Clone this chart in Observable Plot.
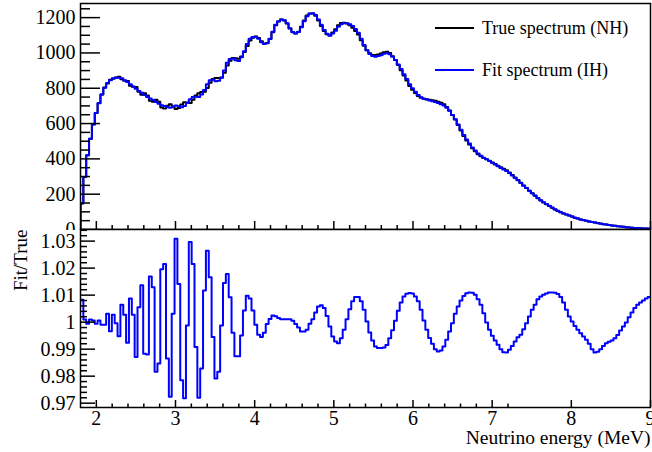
<!DOCTYPE html>
<html><head><meta charset="utf-8">
<script src="https://cdn.jsdelivr.net/npm/d3@7"></script>
<script src="https://cdn.jsdelivr.net/npm/@observablehq/plot@0.6"></script>
<style>
body{margin:0;background:#fff;}
#wrap{position:relative;width:652px;height:452px;font-family:"Liberation Serif","DejaVu Serif","Times New Roman",serif;overflow:hidden;}
#top{position:absolute;left:0;top:0;}
#bot{position:absolute;left:0;top:228px;}
.lg{position:absolute;left:435px;height:20px;display:flex;align-items:center;font-size:18px;white-space:nowrap;}
.lg span.sw{display:inline-block;width:39px;height:2px;margin-right:8px;}
svg text{font-family:"Liberation Serif","DejaVu Serif","Times New Roman",serif !important;}
</style></head>
<body><div id="wrap"><div id="top"></div><div id="bot"></div><div id="legend"></div></div>
<script>
// histogram binning
const xMin = 1.8, xMax = 9.0, nBins = 200;

// Fit spectrum (IH), events per bin
const fitSpectrum = [
  149, 297, 420, 514, 595, 660, 716, 764, 803, 830,
  845, 856, 860, 860, 856, 845, 835, 822, 810, 797,
  785, 774, 762, 750, 742, 733, 722, 712, 704, 700,
  692, 690, 697, 703, 698, 693, 700, 718, 738, 750,
  752, 750, 765, 790, 822, 845, 848, 840, 842, 860,
  900, 945, 965, 968, 958, 955, 975, 1010, 1050, 1080,
  1090, 1092, 1080, 1060, 1050, 1055, 1080, 1120, 1160, 1180,
  1190, 1185, 1168, 1140, 1118, 1110, 1118, 1145, 1180, 1208,
  1222, 1225, 1215, 1190, 1160, 1130, 1108, 1098, 1110, 1126,
  1148, 1162, 1168, 1168, 1162, 1152, 1135, 1115, 1080, 1045,
  1015, 994, 982, 979, 982, 987, 995, 998, 993, 978,
  960, 935, 909, 880, 853, 822, 800, 780, 762, 749,
  741, 736, 731, 726, 722, 716, 710, 703, 690, 672,
  648, 625, 595, 565, 535, 510, 487, 465, 447, 430,
  418, 407, 398, 388, 378, 368, 358, 349, 340, 332,
  320, 306, 292, 279, 263, 248, 235, 220, 206, 192,
  178, 166, 154, 144, 134, 124, 115, 106, 98, 91,
  85, 79, 73, 67, 62, 57, 53, 49, 45, 42,
  39, 36, 33, 30, 28, 25, 23, 21, 19, 17,
  15, 13, 12, 10, 9, 8, 7, 6, 6, 5
];

// Fit/True ratio per bin
const ratio = [
  1.0083, 1.0010, 0.9994, 1.0010, 1.0006, 0.9994, 1.0006, 0.9990, 0.9990, 1.0031,
  0.9966, 1.0027, 0.9996, 0.9948, 1.0064, 1.0027, 0.9924, 1.0088, 1.0027, 0.9871,
  1.0055, 1.0137, 0.9883, 0.9880, 1.0169, 1.0129, 0.9816, 0.9847, 1.0196, 1.0215,
  0.9865, 0.9724, 1.0031, 1.0309, 1.0141, 0.9785, 0.9718, 0.9988, 1.0297, 1.0215,
  0.9908, 0.9720, 0.9828, 1.0117, 1.0264, 1.0166, 0.9945, 0.9791, 0.9816, 0.9988,
  1.0145, 1.0178, 1.0092, 0.9961, 0.9874, 0.9874, 0.9951, 1.0043, 1.0098, 1.0088,
  1.0043, 0.9990, 0.9953, 0.9945, 0.9961, 0.9993, 1.0012, 1.0025, 1.0022, 1.0015,
  1.0011, 1.0011, 1.0011, 1.0011, 1.0005, 0.9993, 0.9980, 0.9965, 0.9965, 0.9972,
  0.9994, 1.0011, 1.0036, 1.0058, 1.0063, 1.0052, 1.0023, 0.9984, 0.9947, 0.9928,
  0.9922, 0.9940, 0.9972, 1.0011, 1.0048, 1.0077, 1.0093, 1.0093, 1.0077, 1.0046,
  1.0002, 0.9962, 0.9932, 0.9910, 0.9904, 0.9904, 0.9906, 0.9915, 0.9940, 0.9970,
  1.0005, 1.0042, 1.0073, 1.0095, 1.0105, 1.0108, 1.0106, 1.0095, 1.0077, 1.0046,
  1.0006, 0.9972, 0.9941, 0.9920, 0.9900, 0.9891, 0.9895, 0.9910, 0.9935, 0.9965,
  0.9996, 1.0031, 1.0058, 1.0080, 1.0097, 1.0107, 1.0110, 1.0109, 1.0101, 1.0085,
  1.0064, 1.0033, 0.9999, 0.9972, 0.9950, 0.9932, 0.9916, 0.9900, 0.9889, 0.9888,
  0.9898, 0.9912, 0.9928, 0.9944, 0.9953, 0.9974, 0.9996, 1.0021, 1.0046, 1.0064,
  1.0085, 1.0095, 1.0101, 1.0106, 1.0110, 1.0110, 1.0109, 1.0104, 1.0093, 1.0073,
  1.0046, 1.0021, 1.0002, 0.9986, 0.9972, 0.9959, 0.9947, 0.9935, 0.9920, 0.9900,
  0.9888, 0.9890, 0.9900, 0.9912, 0.9922, 0.9927, 0.9932, 0.9940, 0.9952, 0.9969,
  0.9984, 0.9999, 1.0018, 1.0036, 1.0052, 1.0064, 1.0073, 1.0080, 1.0088, 1.0093
];

// True spectrum (NH) = Fit / (Fit/True)
const trueSpectrum = fitSpectrum.map((v, i) => v / ratio[i]);

const xTicks = [2, 3, 4, 5, 6, 7, 8, 9];
const yTopTicks = [0, 200, 400, 600, 800, 1000, 1200];
const yBotTicks = [0.97, 0.98, 0.99, 1, 1.01, 1.02, 1.03];
const yBotLabels = ["0.97", "0.98", "0.99", "1", "1.01", "1.02", "1.03"];
const seriesNames = ["True spectrum (NH)", "Fit spectrum (IH)"];
const seriesColors = ["#000000", "#0000ff"];
const xTitle = "Neutrino energy (MeV)";
const yBotTitle = "Fit/True";

const edges = d3.range(nBins + 1).map(i => xMin + i * (xMax - xMin) / nBins);
function stepPoints(vals, base) {
  const pts = vals.map((v, i) => ({x: edges[i], y: v}));
  pts.push({x: edges[nBins], y: vals[nBins - 1]});
  if (base !== undefined) {
    pts.unshift({x: edges[0], y: base});
    pts.push({x: edges[nBins], y: base});
  }
  return pts;
}
const minorX = d3.range(9, 37).map(k => k / 5).filter(v => v > xMin && v < xMax && !xTicks.includes(v));
const minorTopY = d3.range(0, 26).map(k => k * 50).filter(v => !yTopTicks.includes(v));
const minorBotY = d3.range(485, 518).map(k => k / 500).filter(v => !yBotTicks.some(t => Math.abs(t - v) < 1e-9));
const blank = () => "";
const font = "'Liberation Serif', 'DejaVu Serif', serif";

const topPlot = Plot.plot({
  width: 652, height: 230,
  marginLeft: 80, marginRight: 2, marginTop: 3, marginBottom: 1,
  style: {fontFamily: font, fontSize: "20px", background: "white", color: "black"},
  x: {domain: [xMin, xMax], axis: null},
  y: {domain: [0, 1280], axis: null},
  marks: [
    Plot.line(stepPoints(trueSpectrum, 0), {x: "x", y: "y", curve: "step-after", stroke: seriesColors[0], strokeWidth: 2, clip: true}),
    Plot.line(stepPoints(fitSpectrum, 0), {x: "x", y: "y", curve: "step-after", stroke: seriesColors[1], strokeWidth: 2, clip: true}),
    Plot.axisY(yTopTicks, {anchor: "left", tickSize: -20, tickFormat: blank, label: null, strokeWidth: 1.5}),
    Plot.axisY(minorTopY, {anchor: "left", tickSize: -10, tickFormat: blank, label: null, strokeWidth: 1.5}),
    Plot.axisY(yTopTicks, {anchor: "left", tickSize: 0, tickPadding: 5, fontSize: 20, label: null, tickFormat: d => String(d)}),
    Plot.axisX(xTicks, {anchor: "bottom", tickSize: -8, tickFormat: blank, label: null, strokeWidth: 1.5}),
    Plot.axisX(minorX, {anchor: "bottom", tickSize: -4, tickFormat: blank, label: null, strokeWidth: 1.5}),
    Plot.frame({stroke: "black", strokeWidth: 1.5})
  ]
});
document.getElementById("top").appendChild(topPlot);

const botPlot = Plot.plot({
  width: 652, height: 224,
  marginLeft: 80, marginRight: 2, marginTop: 1, marginBottom: 45,
  style: {fontFamily: font, fontSize: "20px", background: "transparent", color: "black", overflow: "visible"},
  x: {domain: [xMin, xMax], axis: null},
  y: {domain: [0.9684, 1.0343], axis: null},
  marks: [
    Plot.line(stepPoints(ratio), {x: "x", y: "y", curve: "step-after", stroke: seriesColors[1], strokeWidth: 2, clip: true}),
    Plot.axisY(yBotTicks, {anchor: "left", tickSize: -15, tickFormat: blank, label: null, strokeWidth: 1.5}),
    Plot.axisY(minorBotY, {anchor: "left", tickSize: -7, tickFormat: blank, label: null, strokeWidth: 1.5}),
    Plot.axisY(yBotTicks, {anchor: "left", tickSize: 0, tickPadding: 5, fontSize: 20, label: null, tickFormat: (d, i) => yBotLabels[i]}),
    Plot.axisX(xTicks, {anchor: "bottom", tickSize: -7, tickFormat: blank, label: null, strokeWidth: 1.5}),
    Plot.axisX(minorX, {anchor: "bottom", tickSize: -3.5, tickFormat: blank, label: null, strokeWidth: 1.5}),
    Plot.axisX(xTicks, {anchor: "bottom", tickSize: 0, tickPadding: 3, fontSize: 20, label: null, tickFormat: d => String(d)}),
    Plot.text([yBotTitle], {text: d => d, frameAnchor: "top-left", rotate: -90, textAnchor: "end", lineAnchor: "middle", dx: -60, fontSize: 19}),
    Plot.text([xTitle], {text: d => d, frameAnchor: "bottom-right", textAnchor: "end", lineAnchor: "bottom", dy: 36, fontSize: 19.5}),
    Plot.frame({stroke: "black", strokeWidth: 1.5})
  ]
});
document.getElementById("bot").appendChild(botPlot);

const legend = document.getElementById("legend");
const legendTops = [18, 60];
seriesNames.forEach((name, i) => {
  const row = document.createElement("div");
  row.className = "lg";
  row.style.top = legendTops[i] + "px";
  const sw = document.createElement("span");
  sw.className = "sw";
  sw.style.background = seriesColors[i];
  const tx = document.createElement("span");
  tx.textContent = name;
  row.appendChild(sw);
  row.appendChild(tx);
  legend.appendChild(row);
});
</script>
</body></html>
